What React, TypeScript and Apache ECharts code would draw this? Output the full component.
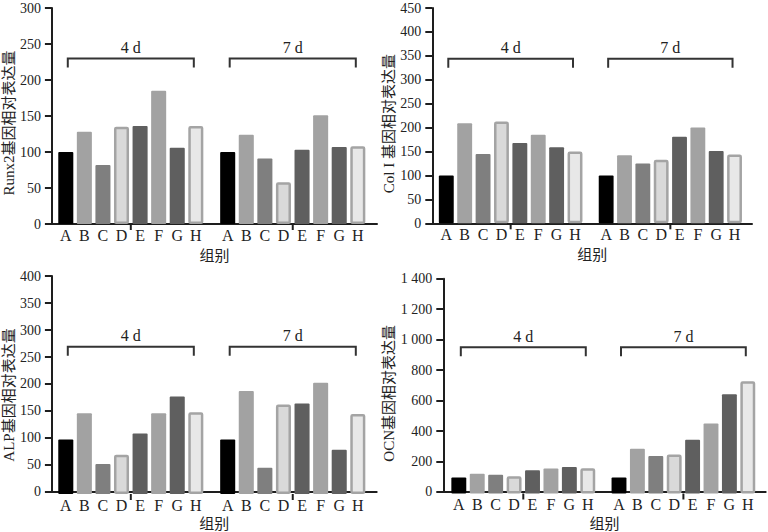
import React, { useEffect, useRef } from "react";
import * as echarts from "echarts";

const categories = ["A", "B", "C", "D", "E", "F", "G", "H"];
const groupLabels = ["4 d", "7 d"];
const xAxisName = "组别";

const runx2Day4 = [100, 128, 82, 135, 136, 185, 106, 136];
const runx2Day7 = [100, 124, 91, 58, 103, 151, 107, 108];
const col1Day4 = [100, 209, 145, 213, 168, 185, 159, 150];
const col1Day7 = [100, 142, 125, 133, 181, 200, 151, 144];
const alpDay4 = [100, 148, 55, 72, 111, 148, 179, 150];
const alpDay7 = [100, 189, 48, 164, 166, 204, 81, 147];
const ocnDay4 = [105, 129, 122, 113, 152, 163, 172, 165];
const ocnDay7 = [105, 292, 244, 255, 351, 457, 647, 732];

const ocnTickLabels = ["0", "200", "400", "600", "800", "1 000", "1 200", "1 400"];

const bracketRunx2 = 230;
const bracketCol1 = 344;
const bracketAlp = 270;
const bracketOcn = 954;

const barColors = ["#000000", "#a2a2a2", "#7f7f7f", "#d9d9d9", "#5f5f5f", "#a2a2a2", "#5f5f5f", "#e8e8e8"];
const barBorders = [null, null, null, "#a4a4a4", null, null, null, "#a4a4a4"];

const FONT = "'Liberation Serif', 'Noto Sans CJK SC', serif";
const AX = "#1e1e1e";

const panels = [
  { name: "Runx2基因相对表达量", max: 300, interval: 50, left: 51, right: 377, top: 8, bottom: 224, g1: [56.5, 205.1], g2: [218.4, 367.1], bracket: bracketRunx2, d4: runx2Day4, d7: runx2Day7, ticks: null as string[] | null, nameGap: 34, nameShift: 7 },
  { name: "Col I 基因相对表达量", max: 450, interval: 50, left: 432.3, right: 752, top: 8, bottom: 223.3, g1: [437.1, 584.2], g2: [597, 743.7], bracket: bracketCol1, d4: col1Day4, d7: col1Day7, ticks: null, nameGap: 33, nameShift: 8 },
  { name: "ALP基因相对表达量", max: 400, interval: 50, left: 51.5, right: 376.7, top: 276, bottom: 494, g1: [56.5, 205.1], g2: [218.4, 367.1], bracket: bracketAlp, d4: alpDay4, d7: alpDay7, ticks: null, nameGap: 34, nameShift: 11 },
  { name: "OCN基因相对表达量", max: 1400, interval: 200, left: 443.3, right: 765.7, top: 278.7, bottom: 493.5, g1: [449.6, 597], g2: [609.8, 757], bracket: bracketOcn, d4: ocnDay4, d7: ocnDay7, ticks: ocnTickLabels, nameGap: 44, nameShift: 8 },
];

function buildOption() {
  const grid: any[] = [];
  const xAxis: any[] = [];
  const yAxis: any[] = [];
  const series: any[] = [];
  panels.forEach((p) => {
    const h = p.bottom - p.top;
    const frameIdx = grid.length;
    grid.push({ left: p.left, top: p.top, width: p.right - p.left, height: h });
    xAxis.push({
      type: "value", gridIndex: frameIdx, min: 0, max: 1,
      axisLine: { show: true, lineStyle: { color: AX, width: 2 } },
      axisTick: { show: false }, axisLabel: { show: false }, splitLine: { show: false },
      name: xAxisName, nameLocation: "middle", nameGap: 24,
      nameTextStyle: { fontSize: 15, color: "#222", fontFamily: FONT },
    });
    yAxis.push({
      type: "value", gridIndex: frameIdx, min: 0, max: p.max, interval: p.interval,
      axisLine: { show: true, lineStyle: { color: AX, width: 2 } },
      axisTick: { show: true, length: 7, lineStyle: { color: AX, width: 2 } },
      axisLabel: {
        fontSize: 14, margin: 11, color: "#222", fontFamily: FONT,
        formatter: (v: number) => (p.ticks ? p.ticks[Math.round(v / p.interval)] : String(v)),
      },
      splitLine: { show: false },
      name: p.name, nameLocation: "middle", nameGap: p.nameGap,
      nameTextStyle: { fontSize: 15, color: "#222", fontFamily: FONT, padding: [0, 2 * p.nameShift, 0, 0] },
    });
    [p.g1, p.g2].forEach((g, j) => {
      const idx = grid.length;
      const vals = j === 0 ? p.d4 : p.d7;
      grid.push({ left: g[0], top: p.top, width: g[1] - g[0], height: h });
      xAxis.push({
        type: "category", gridIndex: idx, data: categories,
        axisLine: { show: false }, axisTick: { show: false }, splitLine: { show: false },
        axisLabel: { interval: 0, fontSize: 16, margin: 3, color: "#222", fontFamily: FONT },
      });
      yAxis.push({ type: "value", gridIndex: idx, min: 0, max: p.max, show: false, splitLine: { show: false } });
      series.push({
        type: "bar", xAxisIndex: idx, yAxisIndex: idx, barWidth: "81%", silent: true,
        data: vals.map((v, k) => ({
          value: v,
          itemStyle: {
            color: barColors[k],
            borderColor: barBorders[k] || barColors[k],
            borderWidth: barBorders[k] ? 2.5 : 0,
            borderRadius: 1,
          },
        })),
      });
      const label = groupLabels[j];
      series.push({
        type: "custom", xAxisIndex: idx, yAxisIndex: idx, silent: true, clip: false,
        data: [[0, p.bracket]],
        renderItem: (params: any, api: any) => {
          const yv = api.value(1);
          const a = api.coord([0, yv]);
          const b = api.coord([7, yv]);
          const band = api.size([1, 0])[0];
          const z = api.coord([3, 0]);
          const tx = z[0] + band / 2;
          return {
            type: "group",
            children: [
              {
                type: "polyline",
                shape: { points: [[a[0] + 2, a[1] + 9], [a[0] + 2, a[1]], [b[0] - 2, b[1]], [b[0] - 2, b[1] + 9]] },
                style: { stroke: "#333", lineWidth: 2, fill: null },
              },
              {
                type: "text",
                style: {
                  text: label, x: (a[0] + b[0]) / 2, y: a[1] - 3, align: "center", verticalAlign: "bottom",
                  fontSize: 16, fontFamily: FONT, fill: "#222",
                },
              },
              {
                type: "line",
                shape: { x1: tx, y1: z[1], x2: tx, y2: z[1] + 6 },
                style: { stroke: AX, lineWidth: 2 },
              },
            ],
          };
        },
      });
    });
  });
  return { animation: false, backgroundColor: "#ffffff", grid, xAxis, yAxis, series };
}

export default function App() {
  const ref = useRef<HTMLDivElement>(null);
  useEffect(() => {
    if (!ref.current) return;
    const chart = echarts.init(ref.current, null, { renderer: "svg" });
    chart.setOption(buildOption() as any);
    return () => chart.dispose();
  }, []);
  return <div ref={ref} style={{ position: "fixed", left: 0, top: 0, width: 768, height: 532, background: "#fff" }} />;
}
